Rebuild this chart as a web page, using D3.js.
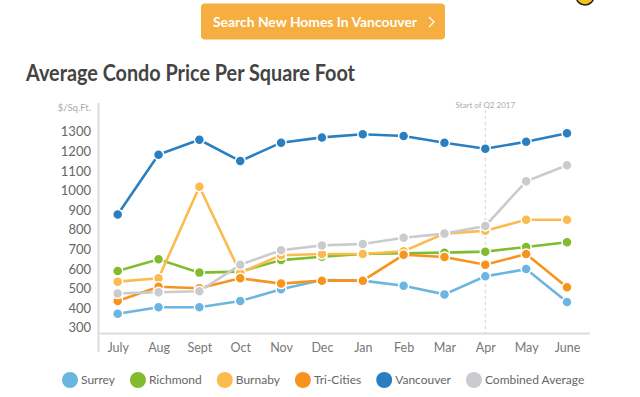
<!DOCTYPE html>
<html>
<head>
<meta charset="utf-8">
<script src="https://cdn.jsdelivr.net/npm/d3@7"></script>
<style>
  body { margin: 0; background: #fff; }
  text { font-family: Lato, "Open Sans", sans-serif; }
</style>
</head>
<body>
<div id="chart"></div>
<script>
const months = ["July", "Aug", "Sept", "Oct", "Nov", "Dec", "Jan", "Feb", "Mar", "Apr", "May", "June"];
const yTicks = [300, 400, 500, 600, 700, 800, 900, 1000, 1100, 1200, 1300];

const surrey    = [371, 404, 404, 436, 496, 543, 540, 514, 470, 562, 599, 431];
const richmond  = [589, 649, 581, 586, 645, 662, 676, 680, 683, 688, 712, 736];
const burnaby   = [535, 552, 1019, 580, 670, 676, 676, 690, 780, 795, 851, 851];
const triCities = [436, 509, 501, 552, 525, 540, 540, 672, 661, 621, 676, 506];
const vancouver = [878, 1183, 1259, 1150, 1244, 1271, 1287, 1278, 1244, 1213, 1249, 1292];
const combined  = [475, 481, 486, 621, 695, 720, 727, 759, 780, 819, 1047, 1129];

const seriesNames = ["Surrey", "Richmond", "Burnaby", "Tri-Cities", "Vancouver", "Combined Average"];
const seriesValues = [surrey, richmond, burnaby, triCities, vancouver, combined];
const colors = ["#6bb6e0", "#82bc2e", "#fbbb4e", "#f7941d", "#2a7fc1", "#cacbcf"];
const q2Month = "Apr";

const width = 640, height = 397;

const svg = d3.select("#chart").append("svg")
    .attr("width", width)
    .attr("height", height);

// top button + cut-off icon
svg.append("circle")
    .attr("cx", 585).attr("cy", -4).attr("r", 9)
    .style("fill", "#f0c419").style("stroke", "#222").style("stroke-width", 1.5);

svg.append("rect")
    .attr("x", 201).attr("y", 3.5)
    .attr("width", 244).attr("height", 36)
    .attr("rx", 4)
    .style("fill", "#f5ae3f");

svg.append("text")
    .attr("x", 213).attr("y", 27)
    .attr("textLength", 204).attr("lengthAdjust", "spacingAndGlyphs")
    .style("font-size", "14px").style("font-weight", 700)
    .style("fill", "#fff")
    .text("Search New Homes In Vancouver");

svg.append("path")
    .attr("d", "M429,17 L434,22 L429,27")
    .style("fill", "none").style("stroke", "#fff").style("stroke-width", 1.3);

svg.append("text")
    .attr("x", 26).attr("y", 81)
    .attr("textLength", 329).attr("lengthAdjust", "spacingAndGlyphs")
    .style("font-size", "22px").style("font-weight", 700)
    .style("fill", "#444")
    .text("Average Condo Price Per Square Foot");

// scales
const x = d3.scalePoint().domain(months).range([117.7, 567]);
const y = d3.scaleLinear().domain([300, 1300]).range([327.7, 131.7]);

// axes lines
svg.append("line")
    .attr("x1", 98.5).attr("x2", 98.5).attr("y1", 103).attr("y2", 352)
    .style("stroke", "#dcdcdc").style("stroke-width", 2);

svg.append("line")
    .attr("x1", 98).attr("x2", 590).attr("y1", 333.5).attr("y2", 333.5)
    .style("stroke", "#dcdcdc").style("stroke-width", 2);

const yAxis = svg.append("g")
    .attr("transform", "translate(91,0)")
    .call(d3.axisLeft(y).tickValues(yTicks).tickSize(0).tickPadding(0).tickFormat(d3.format("d")));
yAxis.select(".domain").remove();
yAxis.selectAll("text")
    .style("font-family", "Lato, sans-serif")
    .style("font-size", "13px")
    .style("fill", "#666");

const xAxis = svg.append("g")
    .attr("transform", "translate(0,340)")
    .call(d3.axisBottom(x).tickSize(0).tickPadding(0));
xAxis.select(".domain").remove();
xAxis.selectAll("text")
    .attr("dy", "0.95em")
    .style("font-family", "Lato, sans-serif")
    .style("font-size", "12.5px")
    .style("fill", "#777");

svg.append("text")
    .attr("x", 91).attr("y", 110.5)
    .attr("text-anchor", "end")
    .style("font-size", "9.5px")
    .style("fill", "#aaa")
    .text("$/Sq.Ft.");

// Q2 marker
svg.append("line")
    .attr("x1", x(q2Month)).attr("x2", x(q2Month))
    .attr("y1", 110).attr("y2", 333)
    .style("stroke", "#d0d0d0").style("stroke-width", 1)
    .style("stroke-dasharray", "3,3");

svg.append("text")
    .attr("x", x(q2Month)).attr("y", 108)
    .attr("text-anchor", "middle")
    .style("font-size", "8px")
    .style("fill", "#aaa")
    .text("Start of Q2 2017");

// series
const line = d3.line()
    .x((d, i) => x(months[i]))
    .y(d => y(d));

seriesValues.forEach((vals, s) => {
    const g = svg.append("g");
    g.append("path")
        .datum(vals)
        .attr("d", line)
        .style("fill", "none")
        .style("stroke", colors[s])
        .style("stroke-width", 2.6);
    g.selectAll("circle")
        .data(vals)
        .enter().append("circle")
        .attr("cx", (d, i) => x(months[i]))
        .attr("cy", d => y(d))
        .attr("r", 5)
        .style("fill", colors[s])
        .style("stroke", "#fff")
        .style("stroke-width", 1.5);
});

// legend
const legend = svg.append("g").attr("transform", "translate(0,380)");
let lx = 70;
seriesNames.forEach((name, i) => {
    legend.append("circle")
        .attr("cx", lx).attr("cy", 0).attr("r", 8)
        .style("fill", colors[i]);
    const t = legend.append("text")
        .attr("x", lx + 11).attr("y", 4.2)
        .style("font-size", "12px")
        .style("fill", "#666")
        .text(name);
    lx += 11 + t.node().getComputedTextLength() + 23;
});
</script>
</body>
</html>
